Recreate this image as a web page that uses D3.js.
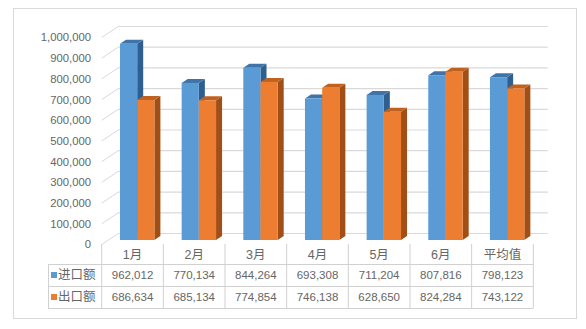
<!DOCTYPE html>
<html><head><meta charset="utf-8">
<script src="https://cdn.jsdelivr.net/npm/d3@7"></script>
<style>html,body{margin:0;padding:0;background:#fff;}svg{display:block;}</style>
</head><body>
<svg id="c" width="586" height="329"></svg>
<script>
const categories = ["1月","2月","3月","4月","5月","6月","平均值"];
const seriesNames = ["进口额","出口额"];
const importValues = [962012,770134,844264,693308,711204,807816,798123];
const exportValues = [686634,685134,774854,746138,628650,824284,743122];
const yTicks = [0,100000,200000,300000,400000,500000,600000,700000,800000,900000,1000000];
const colors = {
  front: ["#5B9BD5","#ED7D31"],
  top: ["#3F74A8","#C0621F"],
  side: ["#2F5F8E","#A24F17"]
};

const svg = d3.select("#c");
const fmt = d3.format(",");
const FONT = "'Liberation Sans', Arial, 'Noto Sans CJK SC', sans-serif";
const TXT = "#666666", GRID = "#D9D9D9", TBL = "#D0D0D0";

// chart border
svg.append("rect").attr("x",13.5).attr("y",8.5).attr("width",563).attr("height",310)
  .attr("fill","#fff").attr("stroke","#D9D9D9");

const x = d3.scaleBand().domain(categories).range([101.7,533.3]);
const yFront = d3.scaleLinear().domain([0,1000000]).range([244.5,37.5]);
const DX = 16.5, DY = -11;
const yBack = v => yFront(v) + DY;
const yBar = d3.scaleLinear().domain([0,1000000]).range([240,36]);

// walls gridlines
const g = svg.append("g");
yTicks.forEach(v => {
  g.append("line").attr("x1",x.range()[0]).attr("y1",yFront(v))
   .attr("x2",x.range()[0]+DX).attr("y2",yBack(v)).attr("stroke",GRID).attr("stroke-width",1);
  g.append("line").attr("x1",x.range()[0]+DX).attr("y1",yBack(v))
   .attr("x2",x.range()[1]+DX-2).attr("y2",yBack(v)).attr("stroke",GRID).attr("stroke-width",1.2);
});

// y tick labels
svg.append("g").selectAll("text").data(yTicks).join("text")
  .attr("x",91).attr("y",d=>yFront(d)).attr("dy","0.35em").attr("text-anchor","end")
  .attr("font-family",FONT).attr("font-size","11.3px").attr("fill",TXT).text(d=>fmt(d));

// bars
const bw = 17.2, bdx = 6, bdy = -4, off = 18.3;
const bars = svg.append("g");
categories.forEach((c,ci) => {
  [importValues, exportValues].forEach((vals,si) => {
    const x0 = x(c) + off + si*bw, x1 = x0 + bw;
    const yt = yBar(vals[ci]), yb = yBar(0);
    bars.append("polygon").attr("fill",colors.side[si])
      .attr("points",[[x1,yt],[x1+bdx,yt+bdy],[x1+bdx,yb+bdy],[x1,yb]].join(" "));
    bars.append("polygon").attr("fill",colors.top[si])
      .attr("points",[[x0,yt],[x0+bdx,yt+bdy],[x1+bdx,yt+bdy],[x1,yt]].join(" "));
    bars.append("rect").attr("x",x0).attr("y",yt).attr("width",bw).attr("height",yb-yt)
      .attr("fill",colors.front[si]);
  });
});

// data table
const tbl = svg.append("g");
const rowY = [244, 264, 286, 308];
const legLeft = 48;
[rowY[1],rowY[2],rowY[3]].forEach(yy => {
  tbl.append("line").attr("x1",legLeft).attr("x2",x.range()[1]).attr("y1",yy+0.5).attr("y2",yy+0.5)
    .attr("stroke",TBL);
});
tbl.append("line").attr("x1",legLeft+0.5).attr("x2",legLeft+0.5).attr("y1",rowY[1]).attr("y2",rowY[3])
  .attr("stroke",TBL);
categories.concat([null]).forEach((c,i) => {
  const xx = x.range()[0] + i*x.bandwidth();
  tbl.append("line").attr("x1",xx).attr("x2",xx).attr("y1",rowY[0]).attr("y2",rowY[3]).attr("stroke",TBL);
});
// headers
tbl.selectAll("text.cat").data(categories).join("text").attr("class","cat")
  .attr("x",d=>x(d)+x.bandwidth()/2).attr("y",(rowY[0]+rowY[1])/2+1).attr("dy","0.35em")
  .attr("text-anchor","middle").attr("font-family",FONT).attr("font-size","12.5px").attr("fill",TXT)
  .text(d=>d);
[importValues, exportValues].forEach((vals,si) => {
  const cy = (rowY[si+1]+rowY[si+2])/2;
  tbl.append("g").selectAll("text").data(vals).join("text")
    .attr("x",(d,i)=>x(categories[i])+x.bandwidth()/2).attr("y",cy).attr("dy","0.35em")
    .attr("text-anchor","middle").attr("font-family",FONT).attr("font-size","11.5px").attr("fill",TXT)
    .text(d=>fmt(d));
  tbl.append("rect").attr("x",51).attr("y",cy-3).attr("width",6).attr("height",6).attr("fill",colors.front[si]);
  tbl.append("text").attr("x",58).attr("y",cy).attr("dy","0.35em")
    .attr("font-family","'Noto Sans CJK SC', sans-serif").attr("font-size","12.5px").attr("fill",TXT)
    .text(seriesNames[si]);
});
</script>
</body></html>
